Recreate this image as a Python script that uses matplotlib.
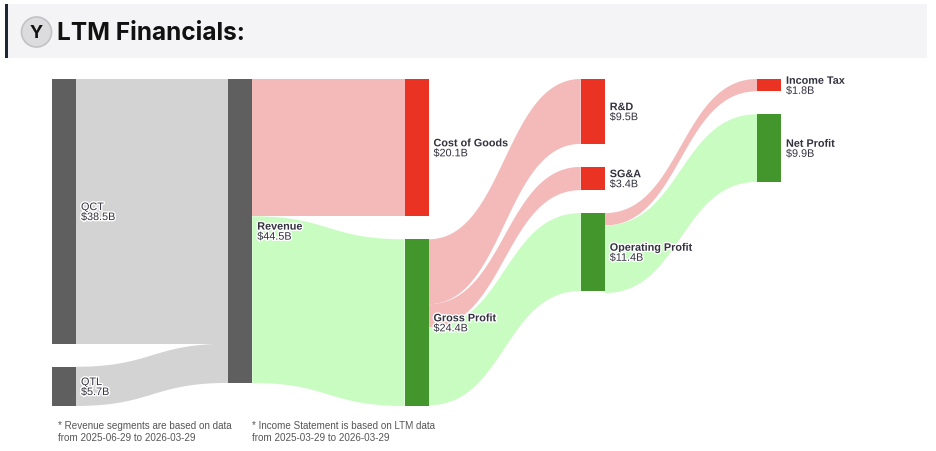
import matplotlib
matplotlib.use("Agg")
import numpy as np
import matplotlib.pyplot as plt
import matplotlib.patheffects as pe
from matplotlib.patches import Rectangle, Circle

# ---- data (billions USD) ----
node_names = ["QCT", "QTL", "Revenue", "Cost of Goods", "Gross Profit",
              "R&D", "SG&A", "Operating Profit", "Income Tax", "Net Profit"]
node_values = [38.5, 5.7, 44.5, 20.1, 24.4, 9.5, 3.4, 11.4, 1.8, 9.9]
node_columns = [0, 0, 1, 2, 2, 3, 3, 3, 4, 4]
node_kinds = ["seg", "seg", "rev", "cost", "profit", "cost", "cost", "profit", "cost", "profit"]

link_sources = ["QCT", "QTL", "Revenue", "Revenue", "Gross Profit", "Gross Profit",
                "Gross Profit", "Operating Profit", "Operating Profit"]
link_targets = ["Revenue", "Revenue", "Cost of Goods", "Gross Profit", "R&D", "SG&A",
                "Operating Profit", "Income Tax", "Net Profit"]
link_values = [38.5, 5.7, 20.1, 24.4, 9.5, 3.4, 11.4, 1.8, 9.9]

notes = ["* Revenue segments are based on data\nfrom 2025-06-29 to 2026-03-29",
         "* Income Statement is based on LTM data\nfrom 2025-03-29 to 2026-03-29"]

# ---- styles ----
node_colors = {"seg": "#5f5f5f", "rev": "#5f5f5f", "cost": "#eb3323", "profit": "#43962b"}
link_colors = {"seg": "#d3d3d3", "rev": "#d3d3d3", "cost": "#f4b9b9", "profit": "#c8fcc1"}

W, H_PX = 936, 452
fig = plt.figure(figsize=(W / 100, H_PX / 100), dpi=100)
fig.patch.set_facecolor("white")

# ---- header ----
deco = fig.add_axes([0, 0, 1, 1])
deco.set_xlim(0, W)
deco.set_ylim(H_PX, 0)
deco.axis("off")
deco.add_patch(Rectangle((5, 5), 922, 54, facecolor="#f4f4f6", edgecolor="none"))
deco.add_patch(Rectangle((4.5, 5), 3.5, 54, facecolor="#1d2833", edgecolor="none"))
deco.add_patch(Circle((36.5, 33), 15, facecolor="#dcdcde", edgecolor="#c2c2c6", lw=1.2))
deco.text(36.5, 33.5, "Y", ha="center", va="center", fontsize=13,
          fontweight="bold", family="Inter", color="#111111")
deco.text(57, 33, "LTM Financials:", ha="left", va="center", fontsize=17.6,
          fontweight="bold", family="Inter", color="#111111")
for note, nx in zip(notes, [58, 252]):
    deco.text(nx, 421, note, ha="left", va="top", fontsize=7.1, family="Liberation Sans",
              color="#555555", linespacing=1.3)

# segments come from a different period: scale them so they add up to revenue
rev = node_values[node_names.index("Revenue")]
seg_total = sum(v for v, k in zip(node_values, node_kinds) if k == "seg")
heights = [v * rev / seg_total if k == "seg" else v for v, k in zip(node_values, node_kinds)]
flows = [v * rev / seg_total if s in ("QCT", "QTL") else v
         for s, v in zip(link_sources, link_values)]

# ---- sankey layout ----
col_px = 176.25
node_w = 24 / col_px
gap = 3.37
n_cols = max(node_columns) + 1
col_totals = [sum(h for h, c in zip(heights, node_columns) if c == k) +
              gap * (node_columns.count(k) - 1) for k in range(n_cols)]
total_h = max(col_totals)

ax_left, ax_top = 52, 80
ax_w_px = (n_cols - 1 + node_w) * col_px
px_per_unit = 6.83
ax_h_px = total_h * px_per_unit
ax = fig.add_axes([ax_left / W, 1 - (ax_top + ax_h_px) / H_PX, ax_w_px / W, ax_h_px / H_PX])
ax.set_xlim(0, n_cols - 1 + node_w)
ax.set_ylim(total_h, 0)
ax.axis("off")

y0 = {}
next_y = [0.0] * n_cols
for name, h, col in zip(node_names, heights, node_columns):
    y0[name] = next_y[col]
    next_y[col] += h + gap
idx = {n: i for i, n in enumerate(node_names)}


def bezier(xa, ya, xb, yb, n=80):
    t = np.linspace(0, 1, n)
    xm = (xa + xb) / 2
    x = (1 - t) ** 3 * xa + 3 * (1 - t) ** 2 * t * xm + 3 * (1 - t) * t ** 2 * xm + t ** 3 * xb
    y = (1 - t) ** 3 * ya + 3 * (1 - t) ** 2 * t * ya + 3 * (1 - t) * t ** 2 * yb + t ** 3 * yb
    return x, y


out_off = {n: 0.0 for n in node_names}
in_off = {n: 0.0 for n in node_names}
for s, t, v in zip(link_sources, link_targets, flows):
    si, ti = idx[s], idx[t]
    xs = node_columns[si] + node_w
    xt = node_columns[ti]
    ys = y0[s] + out_off[s]
    yt = y0[t] + in_off[t]
    out_off[s] += v
    in_off[t] += v
    tx, ty = bezier(xs, ys, xt, yt)
    bx, by = bezier(xs, ys + v, xt, yt + v)
    kind = node_kinds[si] if node_kinds[si] == "seg" else node_kinds[ti]
    ax.fill(np.r_[tx, bx[::-1]], np.r_[ty, by[::-1]], color=link_colors[kind],
            lw=0, zorder=1)

halo = [pe.withStroke(linewidth=2, foreground="white")]
for name, val, h, col, kind in zip(node_names, node_values, heights, node_columns, node_kinds):
    ax.add_patch(Rectangle((col, y0[name]), node_w, h, facecolor=node_colors[kind],
                           edgecolor="none", zorder=2))
    lx = col + node_w + 5 / col_px
    cy = y0[name] + h / 2
    weight = "normal" if kind == "seg" else "bold"
    ax.text(lx, cy + 0.1, name, ha="left", va="bottom", fontsize=7.8, fontweight=weight,
            family="Liberation Sans", color="#333340", path_effects=halo, zorder=3, clip_on=False)
    ax.text(lx, cy + 0.1, f"${val:.1f}B", ha="left", va="top", fontsize=7.8,
            family="Liberation Sans", color="#333340", path_effects=halo, zorder=3, clip_on=False)

fig.savefig("out.png", dpi=100, facecolor="white")
